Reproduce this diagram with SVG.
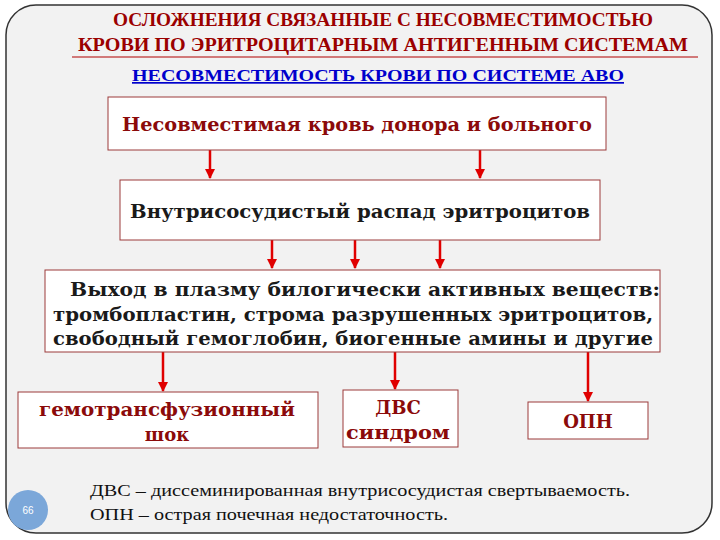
<svg xmlns="http://www.w3.org/2000/svg" width="720" height="540" viewBox="0 0 720 540">
<defs>
<style>
.box{fill:#fff;stroke:#9b3a3a;stroke-width:1}
.t{font-family:"DejaVu Serif",serif;font-weight:bold;font-size:18px;text-anchor:middle;fill:#1a1a1a}
.r{fill:#8b0a0a}
.ttl{font-family:"Liberation Serif",serif;font-weight:bold;font-size:18px;fill:#9b0000;text-anchor:middle}
.c{stroke:#e00000;stroke-width:2.5;marker-end:url(#a)}
</style>
<marker id="a" viewBox="0 0 10 10" refX="9" refY="5" markerWidth="4" markerHeight="4" orient="auto"><path d="M0,0L10,5L0,10z" fill="#e00000"/></marker>
</defs>
<rect x="0" y="0" width="720" height="540" fill="#fff"/>
<rect x="6" y="5" width="706" height="528" rx="30" fill="#f2f2f2" stroke="#333" stroke-width="1.5"/>
<text class="ttl" x="383" y="26" textLength="540" lengthAdjust="spacingAndGlyphs">ОСЛОЖНЕНИЯ СВЯЗАННЫЕ С НЕСОВМЕСТИМОСТЬЮ</text>
<text class="ttl" x="383" y="51" textLength="610" lengthAdjust="spacingAndGlyphs">КРОВИ  ПО ЭРИТРОЦИТАРНЫМ АНТИГЕННЫМ СИСТЕМАМ</text>
<line x1="72" y1="57" x2="698" y2="57" stroke="#b00000" stroke-width="1"/>
<text x="378" y="81" font-family="Liberation Serif,serif" font-weight="bold" font-size="17" fill="#0000cc" text-anchor="middle" text-decoration="underline" textLength="492" lengthAdjust="spacingAndGlyphs">НЕСОВМЕСТИМОСТЬ КРОВИ ПО СИСТЕМЕ АВО</text>
<g id="connectors">
<line class="c" x1="210" y1="150" x2="210" y2="178"/>
<line class="c" x1="480" y1="150" x2="480" y2="178"/>
<line class="c" x1="272" y1="240" x2="272" y2="268"/>
<line class="c" x1="355" y1="240" x2="355" y2="268"/>
<line class="c" x1="440" y1="240" x2="440" y2="268"/>
<line class="c" x1="163" y1="352" x2="163" y2="391"/>
<line class="c" x1="395" y1="352" x2="395" y2="389"/>
<line class="c" x1="588" y1="352" x2="588" y2="401"/>
</g>
<g id="n1"><rect class="box" x="108" y="97" width="498" height="53"/><text class="t r" x="357" y="131" textLength="470" lengthAdjust="spacingAndGlyphs">Несовместимая кровь донора и больного</text></g>
<g id="n2"><rect class="box" x="120" y="180" width="480" height="60"/><text class="t" x="360" y="218" textLength="460" lengthAdjust="spacingAndGlyphs">Внутрисосудистый распад эритроцитов</text></g>
<g id="n3"><rect class="box" x="45" y="270" width="615" height="82"/>
<text class="t" x="365" y="296" textLength="590" lengthAdjust="spacingAndGlyphs">Выход в плазму билогически активных веществ:</text>
<text class="t" x="353" y="321" textLength="600" lengthAdjust="spacingAndGlyphs">тромбопластин, строма разрушенных эритроцитов,</text>
<text class="t" x="353" y="345" textLength="600" lengthAdjust="spacingAndGlyphs">свободный гемоглобин, биогенные амины и другие</text></g>
<g id="n4"><rect class="box" x="18" y="392" width="300" height="56"/><text class="t r" x="167" y="416" textLength="256" lengthAdjust="spacingAndGlyphs">гемотрансфузионный</text><text class="t r" x="167" y="441">шок</text></g>
<g id="n5"><rect class="box" x="343" y="390" width="115" height="57"/><text class="t r" x="398" y="414">ДВС</text><text class="t r" x="398" y="439" textLength="104" lengthAdjust="spacingAndGlyphs">синдром</text></g>
<g id="n6"><rect class="box" x="528" y="402" width="120" height="37"/><text class="t r" x="588" y="428">ОПН</text></g>
<text x="90" y="496" font-family="Liberation Serif,serif" font-size="17" fill="#111" textLength="540" lengthAdjust="spacingAndGlyphs">ДВС – диссеминированная внутрисосудистая свертываемость.</text>
<text x="90" y="520" font-family="Liberation Serif,serif" font-size="17" fill="#111" textLength="358" lengthAdjust="spacingAndGlyphs">ОПН – острая почечная недостаточность.</text>
<circle cx="28" cy="510" r="20" fill="#7ba7d9"/>
<text x="28" y="514" font-family="Liberation Sans,sans-serif" font-size="10" fill="#fff" text-anchor="middle">66</text>
</svg>
